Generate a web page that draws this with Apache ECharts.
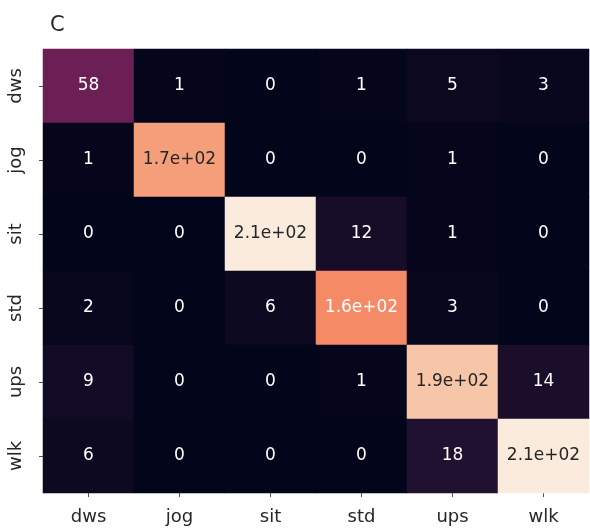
<!DOCTYPE html>
<html>
<head>
<meta charset="utf-8">
<script src="https://cdn.jsdelivr.net/npm/echarts@6/dist/echarts.min.js"></script>
<style>
  html, body { margin: 0; padding: 0; background: #fff; }
  #chart { width: 590px; height: 528px; }
</style>
</head>
<body>
<div id="chart"></div>
<script>
// Activity classes (true label rows, predicted label columns)
const classes = ['dws', 'jog', 'sit', 'std', 'ups', 'wlk'];

// Confusion-matrix counts, one array per true class
const rowDws = [58, 1, 0, 1, 5, 3];
const rowJog = [1, 170, 0, 0, 1, 0];
const rowSit = [0, 0, 210, 12, 1, 0];
const rowStd = [2, 0, 6, 160, 3, 0];
const rowUps = [9, 0, 0, 1, 190, 14];
const rowWlk = [6, 0, 0, 0, 18, 210];
const matrix = [rowDws, rowJog, rowSit, rowStd, rowUps, rowWlk];

const panelTitle = 'C';

// "rocket" colour ramp, evenly spaced stops
const rocket = ['#03051a', '#35193e', '#701f57', '#ad1759', '#e13342', '#f37651', '#f6b48f', '#faebdd'];

const allValues = matrix.flat();
const vMin = 0;
const vMax = Math.max(...allValues);

function hexToRgb(h) {
  return [1, 3, 5].map(i => parseInt(h.slice(i, i + 2), 16));
}
function rampColor(t) {
  t = Math.min(1, Math.max(0, t));
  const pos = t * (rocket.length - 1);
  const i = Math.min(rocket.length - 2, Math.floor(pos));
  const f = pos - i;
  const a = hexToRgb(rocket[i]), b = hexToRgb(rocket[i + 1]);
  return a.map((c, k) => c + (b[k] - c) * f);
}
function luminance(rgb) {
  const lin = rgb.map(c => {
    c /= 255;
    return c <= 0.03928 ? c / 12.92 : Math.pow((c + 0.055) / 1.055, 2.4);
  });
  return 0.2126 * lin[0] + 0.7152 * lin[1] + 0.0722 * lin[2];
}
// two significant digits, exponent written with two digits
function fmt2g(v) {
  if (v === 0) return '0';
  const e = Math.floor(Math.log10(Math.abs(v)));
  if (e < -4 || e >= 2) {
    return v.toExponential(1).replace(/e([+-])(\d)$/, 'e$10$2');
  }
  return String(+v.toPrecision(2));
}

const cells = [];
matrix.forEach((row, r) => {
  row.forEach((v, c) => {
    const lum = luminance(rampColor((v - vMin) / (vMax - vMin)));
    cells.push({
      value: [c, r, v],
      label: { color: lum > 0.408 ? '#262626' : '#ffffff' }
    });
  });
});

const font = 'DejaVu Sans';
const chart = echarts.init(document.getElementById('chart'), null, { renderer: 'canvas' });
chart.setOption({
  animation: false,
  backgroundColor: '#ffffff',
  title: {
    text: panelTitle,
    left: 45,
    top: 10,
    textStyle: { fontFamily: font, fontSize: 21, fontWeight: 'normal', color: '#262626' }
  },
  grid: { left: 43, right: 1, top: 49, bottom: 35 },
  xAxis: {
    type: 'category',
    data: classes,
    axisLine: { show: false },
    axisTick: { show: true, alignWithLabel: true, length: 4, lineStyle: { color: '#555' } },
    axisLabel: { fontFamily: font, fontSize: 18, color: '#262626', margin: 15 },
    splitLine: { show: false }
  },
  yAxis: {
    type: 'category',
    data: classes,
    inverse: true,
    axisLine: { show: false },
    axisTick: { show: true, alignWithLabel: true, length: 4, lineStyle: { color: '#555' } },
    axisLabel: { fontFamily: font, fontSize: 18, color: '#262626', rotate: 90, margin: 18 },
    splitLine: { show: false }
  },
  visualMap: {
    show: false,
    type: 'continuous',
    min: vMin,
    max: vMax,
    dimension: 2,
    inRange: { color: rocket }
  },
  series: [{
    type: 'heatmap',
    data: cells,
    label: {
      show: true,
      fontFamily: font,
      fontSize: 17,
      formatter: p => fmt2g(p.value[2])
    },
    itemStyle: { borderWidth: 0 },
    emphasis: { disabled: true }
  }]
});
</script>
</body>
</html>
